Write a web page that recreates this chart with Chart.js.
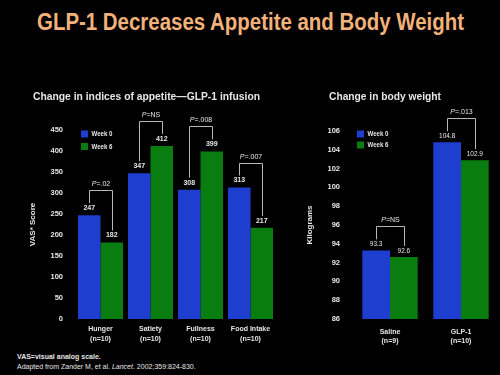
<!DOCTYPE html>
<html><head><meta charset="utf-8">
<script src="https://cdn.jsdelivr.net/npm/chart.js@4.4.1/dist/chart.umd.min.js"></script>
<style>
html,body{margin:0;padding:0;background:#000;width:500px;height:375px;overflow:hidden;}
#title{position:absolute;left:0;top:10px;width:500px;text-align:center;color:#f2b27a;font:bold 23.5px 'Liberation Sans',Arial,sans-serif;line-height:24px;white-space:nowrap;}
#tspan{display:inline-block;transform-origin:center;}
#c1{position:absolute;left:20px;top:85px;}
#c2{position:absolute;left:295px;top:85px;}
.fn{position:absolute;left:17px;color:#e6e6e6;font-family:'Liberation Sans',Arial,sans-serif;font-size:7px;line-height:9px;white-space:nowrap;}
</style></head>
<body>
<div id="title"><span id="tspan">GLP-1 Decreases Appetite and Body Weight</span></div>
<canvas id="c1" width="265" height="265"></canvas>
<canvas id="c2" width="205" height="265"></canvas>
<div class="fn" style="top:352px;font-weight:bold;">VAS=visual analog scale.</div>
<div class="fn" style="top:362px;">Adapted from Zander M, et al. <i>Lancet</i>. 2002;359:824-830.</div>
<script>
// ---- data ----
const seriesNames = ['Week 0', 'Week 6'];
const appetiteCategories = [['Hunger', '(n=10)'], ['Satiety', '(n=10)'], ['Fullness', '(n=10)'], ['Food Intake', '(n=10)']];
const appetiteWeek0 = [247, 347, 308, 313];
const appetiteWeek6 = [182, 412, 399, 217];
const appetitePValues = ['.02', 'NS', '.008', '.007'];
const appetiteTicks = { min: 0, max: 450, step: 50 };

const weightCategories = [['Saline', '(n=9)'], ['GLP-1', '(n=10)']];
const weightWeek0 = [93.3, 104.8];
const weightWeek6 = [92.6, 102.9];
const weightPValues = ['NS', '.013'];
const weightTicks = { min: 86, max: 106, step: 2 };

// ---- styles ----
const FONT = "'Liberation Sans', Arial, sans-serif";
const BLUE = '#1e3ed0';
const GREEN = '#0a7d10';
const TXT = '#e6e6e6';

// scale main title to reference width
(function () {
  const s = document.getElementById('tspan');
  const w = s.getBoundingClientRect().width;
  s.style.transform = 'scaleX(' + (427 / w) + ')';
})();

const deco = {
  id: 'deco',
  afterDraw(chart, args, o) {
    const ctx = chart.ctx, ca = chart.chartArea;
    ctx.save();
    ctx.textBaseline = 'middle';
    // subtitle
    ctx.fillStyle = TXT;
    ctx.font = 'bold 10.5px ' + FONT;
    ctx.textAlign = 'left';
    ctx.fillText(o.title, o.titleX, o.titleY, o.titleWidth);
    // legend
    chart.data.datasets.forEach((ds, i) => {
      const y = ca.top + o.legDy + i * o.legStep;
      ctx.fillStyle = ds.backgroundColor;
      ctx.fillRect(ca.left + o.legDx, y - 3.5, 7, 7);
      ctx.fillStyle = TXT;
      ctx.font = 'bold 7.5px ' + FONT;
      ctx.textAlign = 'left';
      ctx.fillText(ds.label, ca.left + o.legDx + 10.5, y, 21);
    });
    // values + brackets
    const m0 = chart.getDatasetMeta(0), m1 = chart.getDatasetMeta(1);
    const d0 = chart.data.datasets[0].data, d1 = chart.data.datasets[1].data;
    m0.data.forEach((b0, i) => {
      const b1 = m1.data[i];
      ctx.font = o.valueFont;
      ctx.textAlign = 'center';
      ctx.fillStyle = TXT;
      ctx.fillText(d0[i].toFixed(o.decimals), b0.x, b0.y - o.valOff);
      ctx.fillText(d1[i].toFixed(o.decimals), b1.x, b1.y - o.valOff);
      const lineY = Math.round(Math.min(b0.y, b1.y) - o.lineOff) + 0.5;
      const x0 = Math.round(b0.x) + 0.5, x1 = Math.round(b1.x) + 0.5;
      ctx.strokeStyle = '#b8b8b8';
      ctx.lineWidth = 1;
      ctx.beginPath();
      ctx.moveTo(x0, b0.y - o.endOff);
      ctx.lineTo(x0, lineY);
      ctx.lineTo(x1, lineY);
      ctx.lineTo(x1, b1.y - o.endOff);
      ctx.stroke();
      // P text
      const pre = 'P', rest = '=' + o.pValues[i];
      ctx.font = 'italic 7px ' + FONT;
      const wp = ctx.measureText(pre).width;
      ctx.font = '7px ' + FONT;
      const wr = ctx.measureText(rest).width;
      const cx = (x0 + x1) / 2, sx = cx - (wp + wr) / 2, ty = lineY - 6;
      ctx.textAlign = 'left';
      ctx.font = 'italic 7px ' + FONT;
      ctx.fillText(pre, sx, ty);
      ctx.font = '7px ' + FONT;
      ctx.fillText(rest, sx + wp, ty);
    });
    ctx.restore();
  }
};

function makeChart(id, cats, w0, w6, ticks, cfg) {
  return new Chart(document.getElementById(id), {
    type: 'bar',
    data: {
      labels: cats,
      datasets: [
        { label: seriesNames[0], data: w0, backgroundColor: BLUE, borderWidth: 0 },
        { label: seriesNames[1], data: w6, backgroundColor: GREEN, borderWidth: 0 }
      ]
    },
    options: {
      responsive: false,
      animation: false,
      categoryPercentage: cfg.catPct,
      barPercentage: 1,
      layout: { padding: { top: cfg.top, right: cfg.right, left: 0, bottom: 0 } },
      plugins: {
        legend: { display: false },
        tooltip: { enabled: false },
        title: { display: false },
        deco: cfg.deco
      },
      scales: {
        x: {
          grid: { display: false, drawTicks: false },
          border: { display: false },
          ticks: { color: TXT, font: { family: FONT, size: 7, weight: 'bold', lineHeight: cfg.xLH }, padding: cfg.xPad, maxRotation: 0, autoSkip: false },
          afterFit(s) { s.height = 265 - 234; }
        },
        y: {
          min: ticks.min, max: ticks.max,
          grid: { display: false, drawTicks: false },
          border: { display: false },
          ticks: { stepSize: ticks.step, color: TXT, font: { family: FONT, size: 7.5, weight: 'bold' }, padding: cfg.yPad },
          title: { display: true, text: cfg.yTitle, color: TXT, font: { family: FONT, size: 8, weight: 'bold' }, padding: { top: cfg.yTitlePad, bottom: 0 } },
          afterFit(s) { s.width = cfg.yWidth; }
        }
      }
    },
    plugins: [deco]
  });
}

makeChart('c1', appetiteCategories, appetiteWeek0, appetiteWeek6, appetiteTicks, {
  catPct: 0.9, top: 45, right: 9.5, xLH: 1.5, xPad: 4.75, yPad: 12.5, yWidth: 55.5, yTitlePad: 8.2,
  yTitle: 'VAS* Score',
  deco: {
    title: 'Change in indices of appetite\u2014GLP-1 infusion', titleX: 13, titleY: 12, titleWidth: 227,
    legDx: 5.5, legDy: 4, legStep: 12.5,
    valueFont: 'bold 7px ' + FONT, decimals: 0, valOff: 7, lineOff: 25, endOff: 12,
    pValues: appetitePValues
  }
});

makeChart('c2', weightCategories, weightWeek0, weightWeek6, weightTicks, {
  catPct: 0.78, top: 46, right: 3.5, xLH: 1.3, xPad: 8.5, yPad: 14.5, yWidth: 59.5, yTitlePad: 10.2,
  yTitle: 'Kilograms',
  deco: {
    title: 'Change in body weight', titleX: 34, titleY: 12, titleWidth: 112,
    legDx: 2.5, legDy: 3, legStep: 11,
    valueFont: '6.5px ' + FONT, decimals: 1, valOff: 6, lineOff: 24, endOff: 11,
    pValues: weightPValues
  }
});
</script>
</body></html>
